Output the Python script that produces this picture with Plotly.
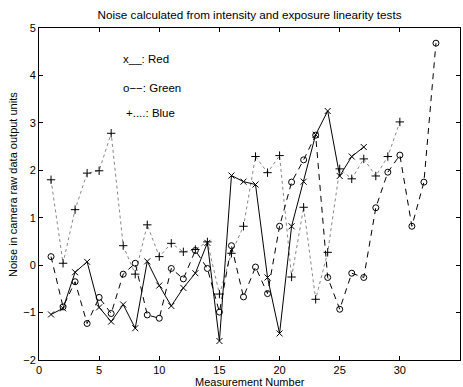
import plotly.graph_objects as go

red = [-1.04, -0.91, -0.15, 0.07, -0.89, -1.19, -0.83, -1.33, 0.08, -0.43, -0.86, -0.48, -0.17, 0.47,
       -1.6, 1.89, 1.76, 1.7, -0.26, -1.44, 0.82, 1.76, 2.75, 3.25, 1.88, 2.29, 2.49]
green = [0.18, -0.88, -0.35, -1.23, -0.68, -1.02, -0.19, 0.04, -1.05, -1.12, -0.07, -0.29, 0.31, -0.07,
         -0.99, 0.41, -0.67, -0.04, -0.6, 0.82, 1.75, 2.22, 2.74, -0.26, -0.93, -0.17, -0.26, 1.21,
         1.96, 2.32, 0.82, 1.75, 4.68]
blue = [1.8, 0.04, 1.17, 1.94, 1.99, 2.78, 0.41, -0.19, 0.85, 0.18, 0.46, 0.28, 0.33, 0.49, -0.61,
        0.25, 0.82, 2.29, 1.95, 2.31, -0.25, 1.22, -0.72, 0.27, 2.03, 1.82, 2.24, 1.88, 2.29, 3.02]

x_red = list(range(1, len(red) + 1))
x_green = list(range(1, len(green) + 1))
x_blue = list(range(1, len(blue) + 1))

x_ticks = [0, 5, 10, 15, 20, 25, 30, 35]
y_ticks = [-2, -1, 0, 1, 2, 3, 4, 5]

labels = ["x__: Red", "o−−: Green", "+....: Blue"]
label_x = [6.8, 6.85, 7.1]
label_y = [4.35, 3.74, 3.2]

FONT = "Liberation Sans, Arial, Helvetica, sans-serif"

fig = go.Figure()
fig.add_trace(go.Scatter(
    x=x_blue, y=blue, mode="lines+markers",
    line=dict(color="#888888", width=1, dash="dot"),
    marker=dict(symbol="cross-thin-open", size=6, color="black", line=dict(color="black", width=1)),
    showlegend=False))
fig.add_trace(go.Scatter(
    x=x_green, y=green, mode="lines+markers",
    line=dict(color="black", width=1, dash="6px,5px"),
    marker=dict(symbol="circle-open", size=6, color="black", line=dict(color="black", width=1)),
    showlegend=False))
fig.add_trace(go.Scatter(
    x=x_red, y=red, mode="lines+markers",
    line=dict(color="black", width=1),
    marker=dict(symbol="x-thin-open", size=6, color="black", line=dict(color="black", width=1)),
    showlegend=False))

for t, lx, ly in zip(labels, label_x, label_y):
    fig.add_annotation(x=lx, y=ly, xref="x", yref="y", text=t, showarrow=False,
                       xanchor="left", yanchor="middle", font=dict(family=FONT, size=11.5, color="black"))

fig.add_annotation(x=0.5, y=-0.066, xref="paper", yref="paper", text="Measurement Number",
                   showarrow=False, xanchor="center", yanchor="middle",
                   font=dict(family=FONT, size=11, color="black"))
fig.add_annotation(x=-0.062, y=0.53, xref="paper", yref="paper",
                   text="Noise in camera raw data output units", textangle=-90,
                   showarrow=False, xanchor="center", yanchor="middle",
                   font=dict(family=FONT, size=11, color="black"))

fig.update_layout(
    width=463, height=387,
    margin=dict(l=39, r=3, t=28, b=27),
    paper_bgcolor="white", plot_bgcolor="white",
    font=dict(family=FONT, size=11, color="black"),
    title=dict(text="Noise calculated from intensity and exposure linearity tests",
               x=0.5, xref="paper", xanchor="center",
               y=1 - 15 / 387, yref="container", yanchor="middle",
               font=dict(family=FONT, size=11.7, color="black")),
)
fig.update_xaxes(range=[0, 35], tickvals=x_ticks, ticks="inside", ticklen=4, tickcolor="black",
                 showline=True, linecolor="black", linewidth=1, mirror="ticks",
                 showgrid=False, zeroline=False, tickfont=dict(family=FONT, size=11, color="black"))
fig.update_yaxes(range=[-2, 5], tickvals=y_ticks, ticks="inside", ticklen=4, tickcolor="black",
                 showline=True, linecolor="black", linewidth=1, mirror="ticks",
                 showgrid=False, zeroline=False, tickfont=dict(family=FONT, size=11, color="black"))

fig.write_html("out.html")
